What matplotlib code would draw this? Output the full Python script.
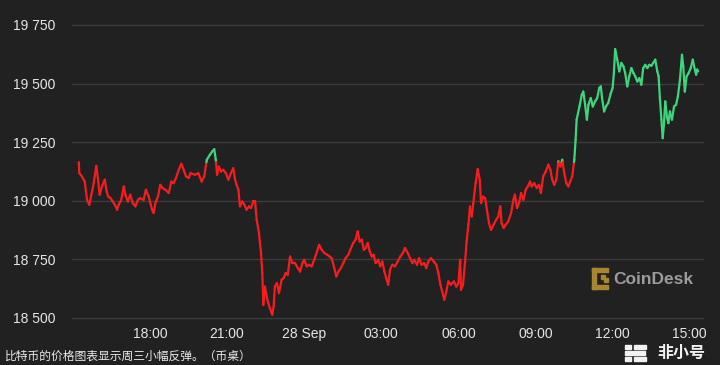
import matplotlib
matplotlib.use("Agg")
import matplotlib.pyplot as plt
import numpy as np
from matplotlib.collections import LineCollection
from matplotlib.patches import Rectangle

# hours relative to 18:00 on 27 Sep
hours = [
    -2.77, -2.75, -2.65, -2.54, -2.45, -2.36, -2.28, -2.19, -2.09, -2.02, -1.96, -1.87,
    -1.76, -1.70, -1.63, -1.54, -1.45, -1.37, -1.28, -1.22, -1.12, -1.02, -0.96, -0.86,
    -0.77, -0.67, -0.57, -0.47, -0.38, -0.25, -0.16, -0.05, 0.08, 0.14, 0.21, 0.31,
    0.40, 0.49, 0.60, 0.73, 0.83, 0.92, 1.01, 1.12, 1.22, 1.31, 1.40, 1.51, 1.58,
    1.75, 1.88, 2.01, 2.11, 2.21, 2.33, 2.42, 2.50, 2.56, 2.61, 2.68, 2.76, 2.85,
    2.95, 3.05, 3.15, 3.24, 3.31, 3.37, 3.44, 3.50, 3.59, 3.67, 3.76, 3.85, 3.93,
    4.02, 4.09, 4.15, 4.24, 4.32, 4.37, 4.41, 4.47, 4.54, 4.60, 4.71, 4.76, 4.81,
    4.86, 4.94, 5.02, 5.12, 5.20, 5.28, 5.36, 5.45, 5.54, 5.64, 5.75, 5.84, 5.93,
    6.00, 6.10, 6.19, 6.29, 6.39, 6.50, 6.58, 6.68, 6.78, 6.89, 6.99, 7.07, 7.17,
    7.25, 7.33, 7.43, 7.52, 7.61, 7.72, 7.82, 7.91, 8.00, 8.08, 8.16, 8.24, 8.32,
    8.39, 8.47, 8.55, 8.63, 8.70, 8.78, 8.88, 8.96, 9.04, 9.12, 9.19, 9.27, 9.34,
    9.43, 9.53, 9.64, 9.74, 9.84, 9.92, 10.03, 10.12, 10.21, 10.28, 10.39, 10.47,
    10.57, 10.67, 10.75, 10.83, 10.93, 11.04, 11.14, 11.22, 11.30, 11.37, 11.45,
    11.53, 11.61, 11.71, 11.82, 11.92, 12.00, 12.07, 12.10, 12.18, 12.26, 12.32,
    12.39, 12.45, 12.52, 12.58, 12.67, 12.75, 12.83, 12.88, 12.96, 13.04, 13.11,
    13.19, 13.27, 13.37, 13.47, 13.55, 13.63, 13.68, 13.76, 13.84, 13.94, 14.05,
    14.14, 14.20, 14.28, 14.36, 14.44, 14.53, 14.62, 14.70, 14.79, 14.85, 14.95,
    15.05, 15.14, 15.21, 15.30, 15.40, 15.50, 15.58, 15.65, 15.73, 15.81, 15.89,
    15.97, 16.04, 16.12, 16.20, 16.28, 16.35, 16.43, 16.51, 16.56, 16.60, 16.71,
    16.80, 16.86, 16.93, 17.00, 17.06, 17.15, 17.23, 17.32, 17.40, 17.48, 17.54,
    17.59, 17.67, 17.74, 17.83, 17.93, 18.00, 18.05, 18.10, 18.18, 18.26, 18.34,
    18.42, 18.49, 18.57, 18.65, 18.73, 18.81, 18.88, 18.96, 19.04, 19.12, 19.19,
    19.27, 19.35, 19.43, 19.51, 19.58, 19.66, 19.74, 19.79, 19.84, 19.90, 19.95,
    20.00, 20.05, 20.11, 20.17, 20.23, 20.31, 20.39, 20.47, 20.54, 20.62, 20.70,
    20.75, 20.81, 20.88, 20.96, 21.04, 21.12, 21.17, 21.25, 21.29, 21.33,
]

prices = [
    19165, 19118, 19104, 19082, 19004, 18983, 19026, 19075, 19149, 19090, 19026, 19061,
    19090, 19047, 19018, 19012, 18997, 18983, 18962, 18983, 19004, 19061, 19026, 18997,
    19026, 18990, 18976, 19004, 19011, 19004, 19047, 19018, 18962, 18948, 18990, 19018,
    19068, 19054, 19047, 19033, 19082, 19075, 19097, 19132, 19158, 19132, 19104, 19097, 19118,
    19111, 19118, 19082, 19104, 19175, 19196, 19210, 19220, 19175, 19111, 19146, 19125, 19132,
    19118, 19090, 19118, 19139, 19090, 19068, 19047, 18976, 18997, 18983, 18962, 18976, 18969,
    18997, 18997, 18919, 18862, 18777, 18692, 18556, 18634, 18592, 18564, 18528, 18514, 18549,
    18634, 18649, 18606, 18663, 18670, 18692, 18684, 18762, 18734, 18735, 18713, 18698, 18734,
    18748, 18720, 18727, 18720, 18748, 18784, 18812, 18791, 18777, 18770, 18762, 18755, 18713,
    18677, 18698, 18713, 18734, 18755, 18770, 18798, 18820, 18834, 18869, 18826, 18834, 18791,
    18798, 18820, 18784, 18762, 18770, 18734, 18748, 18720, 18741, 18698, 18670, 18642, 18706,
    18727, 18720, 18741, 18762, 18777, 18798, 18777, 18755, 18734, 18748, 18727, 18755,
    18727, 18734, 18713, 18741, 18755, 18741, 18727, 18692, 18642, 18613, 18578,
    18613, 18656, 18642, 18656, 18634, 18649, 18748, 18620, 18642, 18740, 18826,
    18898, 18976, 18933, 18990, 19075, 19135, 19090, 18990, 19018, 19011, 18962,
    18905, 18876, 18898, 18919, 18933, 18976, 18905, 18884, 18898, 18912, 18948,
    19004, 19026, 18969, 18990, 19033, 19004, 19047, 19061, 19082, 19061, 19075,
    19054, 19068, 19033, 19104, 19125, 19154, 19132, 19090, 19068, 19090, 19168,
    19146, 19175, 19118, 19075, 19061, 19082, 19104, 19175, 19260, 19346, 19402,
    19452, 19466, 19410, 19346, 19410, 19438, 19402, 19424, 19438, 19481, 19488,
    19438, 19381, 19402, 19417, 19459, 19481, 19545, 19647, 19602, 19552, 19588,
    19574, 19545, 19488, 19531, 19566, 19545, 19531, 19509, 19523, 19495, 19566,
    19580, 19566, 19580, 19576, 19588, 19602, 19552, 19531, 19438, 19346, 19267,
    19331, 19424, 19360, 19331, 19381, 19346, 19402, 19410, 19445, 19516, 19623,
    19573, 19466, 19531, 19545, 19566, 19602, 19574, 19538, 19560, 19552,
]

x_tick_pos = [0, 3, 6, 9, 12, 15, 18, 21]
x_tick_labels = ["18:00", "21:00", "28 Sep", "03:00", "06:00", "09:00", "12:00", "15:00"]
y_ticks = [18500, 18750, 19000, 19250, 19500, 19750]
y_tick_labels = ["18 500", "18 750", "19 000", "19 250", "19 500", "19 750"]
caption = "比特币的价格图表显示周三小幅反弹。（币桌）"

BG = "#212121"
RED = "#f51d1d"
GREEN = "#3ed67c"

plt.rcParams['font.family'] = ['Liberation Sans', 'Noto Sans CJK SC', 'DejaVu Sans']

fig = plt.figure(figsize=(7.2, 3.65), dpi=100, facecolor=BG)
ax = fig.add_axes([72/720, 1 - 320.3/365, 632/720, (320.3 - 15.6)/365])
ax.set_facecolor(BG)

# colour segments above / below the opening price
t = np.asarray(hours, float)
p = np.asarray(prices, float)
ref = p[0]
segs, cols = [], []
for i in range(len(t) - 1):
    x0, y0, x1, y1 = t[i], p[i], t[i+1], p[i+1]
    a0, a1 = y0 >= ref, y1 >= ref
    if a0 == a1:
        segs.append([(x0, y0), (x1, y1)])
        cols.append(GREEN if a0 else RED)
    else:
        f = (ref - y0) / (y1 - y0)
        xm = x0 + f * (x1 - x0)
        segs.append([(x0, y0), (xm, ref)])
        cols.append(GREEN if a0 else RED)
        segs.append([(xm, ref), (x1, y1)])
        cols.append(GREEN if a1 else RED)
lc = LineCollection(segs, colors=cols, linewidths=1.6, capstyle='round', joinstyle='round', zorder=3)
ax.add_collection(lc)

ax.set_xlim((72 - 150) / 25.7, (704 - 150) / 25.7)
ax.set_ylim(18490, 19790)
ax.set_yticks(y_ticks)
ax.set_yticklabels(y_tick_labels)
ax.set_xticks(x_tick_pos)
ax.set_xticklabels(x_tick_labels)
ax.grid(axis='y', color='#3c3c3c', linewidth=1.0, zorder=0)
ax.grid(axis='x', visible=False)
for s in ax.spines.values():
    s.set_visible(False)
ax.tick_params(axis='both', length=0, colors='#e6e6e6', labelsize=10)
ax.tick_params(axis='y', pad=12)
ax.tick_params(axis='x', pad=5)

# CoinDesk watermark
fig.text(613/720, 1 - 279/365, "CoinDesk", color='#9b9b9b', fontsize=12.5,
         fontweight='bold', ha='left', va='center')
gold = '#a8862f'
for (rx, ry, rw, rh) in [(592, 268, 4, 21), (592, 268, 16, 4), (592, 285, 16, 4),
                         (601, 275, 4, 4), (604, 278, 4, 4)]:
    fig.patches.append(Rectangle((rx/720, 1 - (ry + rh)/365), rw/720, rh/365,
                                 transform=fig.transFigure, color=gold, zorder=5))

# caption
fig.text(5/720, 1 - 356/365, caption, color='#e8e8e8', fontsize=8.5,
         ha='left', va='center', family=['Noto Sans CJK SC', 'DejaVu Sans'])

# 非小号 watermark
fig.text(657/720, 1 - 353/365, "非小号", color='#f2f2f2', fontsize=11.5, fontweight='bold',
         ha='left', va='center', family=['Noto Sans CJK SC', 'DejaVu Sans'])
for (rx, ry, rw, rh) in [(625, 345, 6, 4), (634, 345, 12, 4), (625, 351, 20, 4),
                         (625, 357, 6, 4), (634, 357, 12, 4)]:
    fig.patches.append(Rectangle((rx/720, 1 - (ry + rh)/365), rw/720, rh/365,
                                 transform=fig.transFigure, color='#f2f2f2', zorder=5))

fig.savefig("out.png", dpi=100, facecolor=BG)
